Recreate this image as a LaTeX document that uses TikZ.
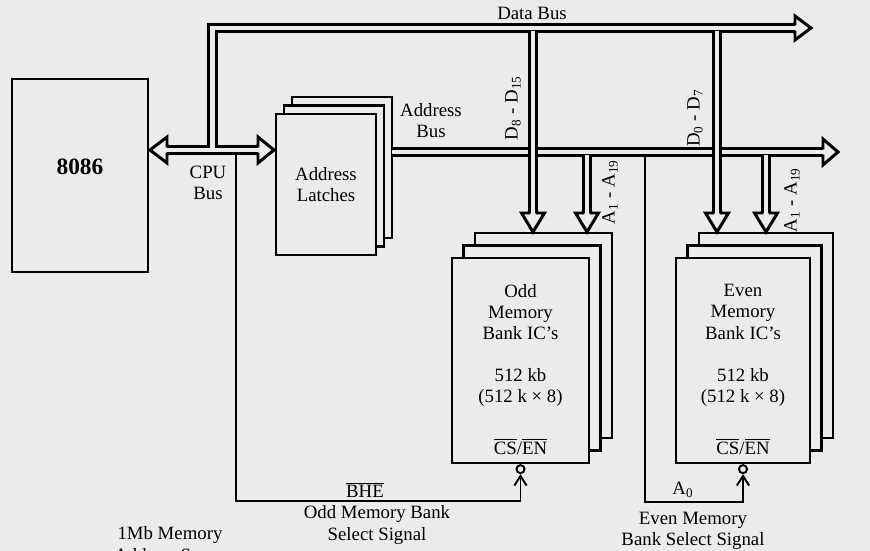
\documentclass[tikz,border=0pt]{standalone}
\usepackage{fontspec}
\setmainfont{Liberation Serif}
\usetikzlibrary{arrows.meta, shadows, positioning}
\definecolor{paper}{gray}{0.92}

\begin{document}
\begin{tikzpicture}[
    x=0.02cm, y=-0.02cm,
    every node/.style={font=\fontsize{10.7}{12}\selectfont, align=center, inner sep=1pt},
    box/.style={draw, line width=1.3pt, fill=paper},
    latchbox/.style={box, minimum width=2.0cm, minimum height=2.82cm,
        copy shadow={shadow xshift=9pt, shadow yshift=9.6pt, draw, fill=paper, line width=1.3pt},
        copy shadow={shadow xshift=4.5pt, shadow yshift=4.8pt, draw, fill=paper, line width=1.3pt}},
    membox/.style={box, minimum height=4.1cm,
        copy shadow={shadow xshift=13pt, shadow yshift=14.2pt, draw, fill=paper, line width=1.3pt},
        copy shadow={shadow xshift=6.5pt, shadow yshift=7.1pt, draw, fill=paper, line width=1.3pt}},
    bus/.style={double=paper, double distance=2.8pt, line width=1.7pt},
    head/.style={line width=1.7pt},
    sig/.style={line width=1.1pt},
    sigtip/.style={sig, -{Straight Barb[length=5.5pt, width=7pt]}},
    bubble/.style={draw, circle, line width=1.1pt, minimum size=4.6pt, inner sep=0pt, fill=paper}
]
\useasboundingbox[fill=paper] (0,0) rectangle (870,551);
% ----- blocks -----
\node[box, minimum width=2.72cm, minimum height=3.86cm] (cpu) at (80,175.5) {};
\node[font=\fontsize{13.3}{15}\selectfont\bfseries] (cpulbl) at (80,167) {8086};
\node[latchbox] (latch) at (326,184.5) {Address\\Latches};
\node[membox, minimum width=2.74cm] (odd) at (520.5,360.5) {};
\node[membox, minimum width=2.68cm] (even) at (743,360.5) {};
% ----- bank texts -----
\node (oddname) at ([yshift=-1.1cm]odd.north) {Odd\\Memory\\Bank IC's};
\node (oddsize) at ([yshift=-2.62cm]odd.north) {512 kb\\(512 k × 8)};
\node (oddcs) at ([yshift=0.36cm]odd.south) {$\overline{\mbox{CS}}$/$\overline{\mbox{EN}}$};
\node (evenname) at ([yshift=-1.1cm]even.north) {Even\\Memory\\Bank IC's};
\node (evensize) at ([yshift=-2.62cm]even.north) {512 kb\\(512 k × 8)};
\node (evencs) at ([yshift=0.36cm]even.south) {$\overline{\mbox{CS}}$/$\overline{\mbox{EN}}$};
\node[bubble, anchor=north] (oddbub) at (odd.south) {};
\node[bubble, anchor=north] (evenbub) at (even.south) {};
% ----- bus end points -----
\coordinate (cpuL) at (167,150);
\coordinate (cpuR) at (258,150);
\coordinate (dataUp) at (212.5,147.5);
\coordinate (dataEnd) at (795,28);
\coordinate (addrL) at (392,152);
\coordinate (addrEnd) at (823,152);
\coordinate (bheTap) at (236,154);
\coordinate (bheLow) at (236,501);
\coordinate (aTap) at (645,156);
\coordinate (aLow) at (645,502);
% ----- CPU bus -----
\draw[bus] (cpuL) -- (cpuR);
\draw[head] (169,146) -- (167,146) -- (167,137) -- (150,150) -- (167,163) -- (167,154) -- (169,154);
\draw[head] (256,146) -- (258,146) -- (258,137) -- (274,150) -- (258,163) -- (258,154) -- (256,154);
% ----- data bus -----
\draw[bus] (dataUp) |- (dataEnd);
\draw[head] (793,24) -- (795,24) -- (795,16) -- (811,28) -- (795,40) -- (795,32) -- (793,32);
% ----- address bus -----
\draw[bus] (addrL) -- (addrEnd);
\draw[head] (821,148) -- (823,148) -- (823,139) -- (838,152) -- (823,165) -- (823,156) -- (821,156);
% address branches
\draw[bus] (587,154.5) -- (587,213);
\draw[head] (583,211) -- (583,213) -- (575.5,213) -- (587,232) -- (598.5,213) -- (591,213) -- (591,211);
\draw[bus] (766,154.5) -- (766,213);
\draw[head] (762,211) -- (762,213) -- (754.5,213) -- (766,232) -- (777.5,213) -- (770,213) -- (770,211);
% data branches (over the address bus)
\draw[bus] (533,30.5) -- (533,213);
\draw[head] (529,211) -- (529,213) -- (521.5,213) -- (533,232) -- (544.5,213) -- (537,213) -- (537,211);
\draw[bus] (717,30.5) -- (717,213);
\draw[head] (713,211) -- (713,213) -- (705.5,213) -- (717,232) -- (728.5,213) -- (721,213) -- (721,211);
% ----- bank select lines -----
\draw[sigtip] (bheTap) -- (bheLow) -| (oddbub.south);
\draw[sigtip] (aTap) -- (aLow) -| (evenbub.south);
% ----- labels -----
\node (databus) at (532,13) {Data Bus};
\node (cpubus) at (208,183) {CPU\\Bus};
\node (addrbus) at (431,121) {Address\\Bus};
\node[rotate=90] (dhi) at (513,108) {D\textsubscript{8} - D\textsubscript{15}};
\node[rotate=90] (dlo) at (695,118) {D\textsubscript{0} - D\textsubscript{7}};
\node[rotate=90] (aodd) at (610,192) {A\textsubscript{1} - A\textsubscript{19}};
\node[rotate=90] (aeven) at (792,200) {A\textsubscript{1} - A\textsubscript{19}};
\node (bhe) at (365,490) {$\overline{\mbox{BHE}}$};
\node (azero) at (683,490) {A\textsubscript{0}};
\node (oddsel) at (377,525) {Odd Memory Bank\\Select Signal};
\node (evensel) at (693,531) {Even Memory\\Bank Select Signal};
\node (space) at (170,546) {1Mb Memory\\Address Space};
\end{tikzpicture}
\end{document}
